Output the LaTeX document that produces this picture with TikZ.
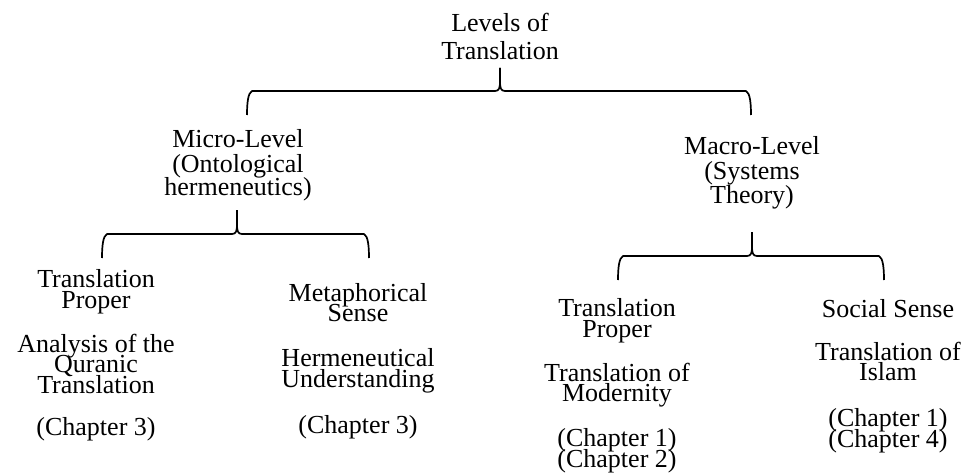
\documentclass[tikz,border=0pt]{standalone}
\usepackage{fontspec}
\setmainfont{Liberation Serif}
% curly brace opening downwards: left x, right x, tip x, tip y, bar y, end y
\newcommand\levelbrace[6]{%
  \draw[brace line] (#1-1,#6) .. controls (#1-1,#6-12) and (#1,#5+2) .. (#1+4,#5)
    -- (#3-5,#5) .. controls (#3-1,#5) and (#3,#5-3) .. (#3,#5-9) -- (#3,#4);
  \draw[brace line] (#2+1,#6) .. controls (#2+1,#6-12) and (#2,#5+2) .. (#2-4,#5)
    -- (#3+5,#5) .. controls (#3+1,#5) and (#3,#5-3) .. (#3,#5-9) -- (#3,#4);
}
\begin{document}
\lineskiplimit=-100pt\relax
\lineskip=0pt\relax
% every text block is placed by the baseline of its last line
\begin{tikzpicture}[x=1pt,y=-1pt,
  label text/.style={align=center, anchor=base, inner sep=0pt},
  leaf text/.style={label text, font=\fontsize{26}{20.5}\selectfont},
  brace line/.style={line width=1.7pt, line join=round}]
\useasboundingbox (0,0) rectangle (967,476);

% headings
\node[label text, font=\fontsize{26}{28}\selectfont] (title) at (500,60)
  {Levels of\\Translation};
\node[label text, font=\fontsize{26}{24}\selectfont] (micro) at (238,196)
  {Micro-Level\\(Ontological\\hermeneutics)};
\node[label text, font=\fontsize{26}{24.5}\selectfont] (macro) at (752,204)
  {Macro-Level\\(Systems\\Theory)};

% braces
\levelbrace{248}{750}{500}{68}{91}{115}
\levelbrace{103}{368}{237}{210}{234}{258}
\levelbrace{619}{883}{752}{232}{256}{280}

% leaves of the micro level
\node[leaf text] (proper micro) at (96,435)
  {Translation\\Proper\\[23.5pt]Analysis of the\\Quranic\\Translation\\[21.5pt](Chapter 3)};
\node[leaf text] (metaphor) at (358,433)
  {Metaphorical\\Sense\\[24.5pt]Hermeneutical\\Understanding\\[25.5pt](Chapter 3)};

% leaves of the macro level
\node[leaf text] (proper macro) at (617,467)
  {Translation\\Proper\\[23.5pt]Translation of\\Modernity\\[24.5pt](Chapter 1)\\(Chapter 2)};
\node[leaf text] (social) at (888,447)
  {Social Sense\\[22.5pt]Translation of\\Islam\\[25.5pt](Chapter 1)\\(Chapter 4)};
\end{tikzpicture}
\end{document}
